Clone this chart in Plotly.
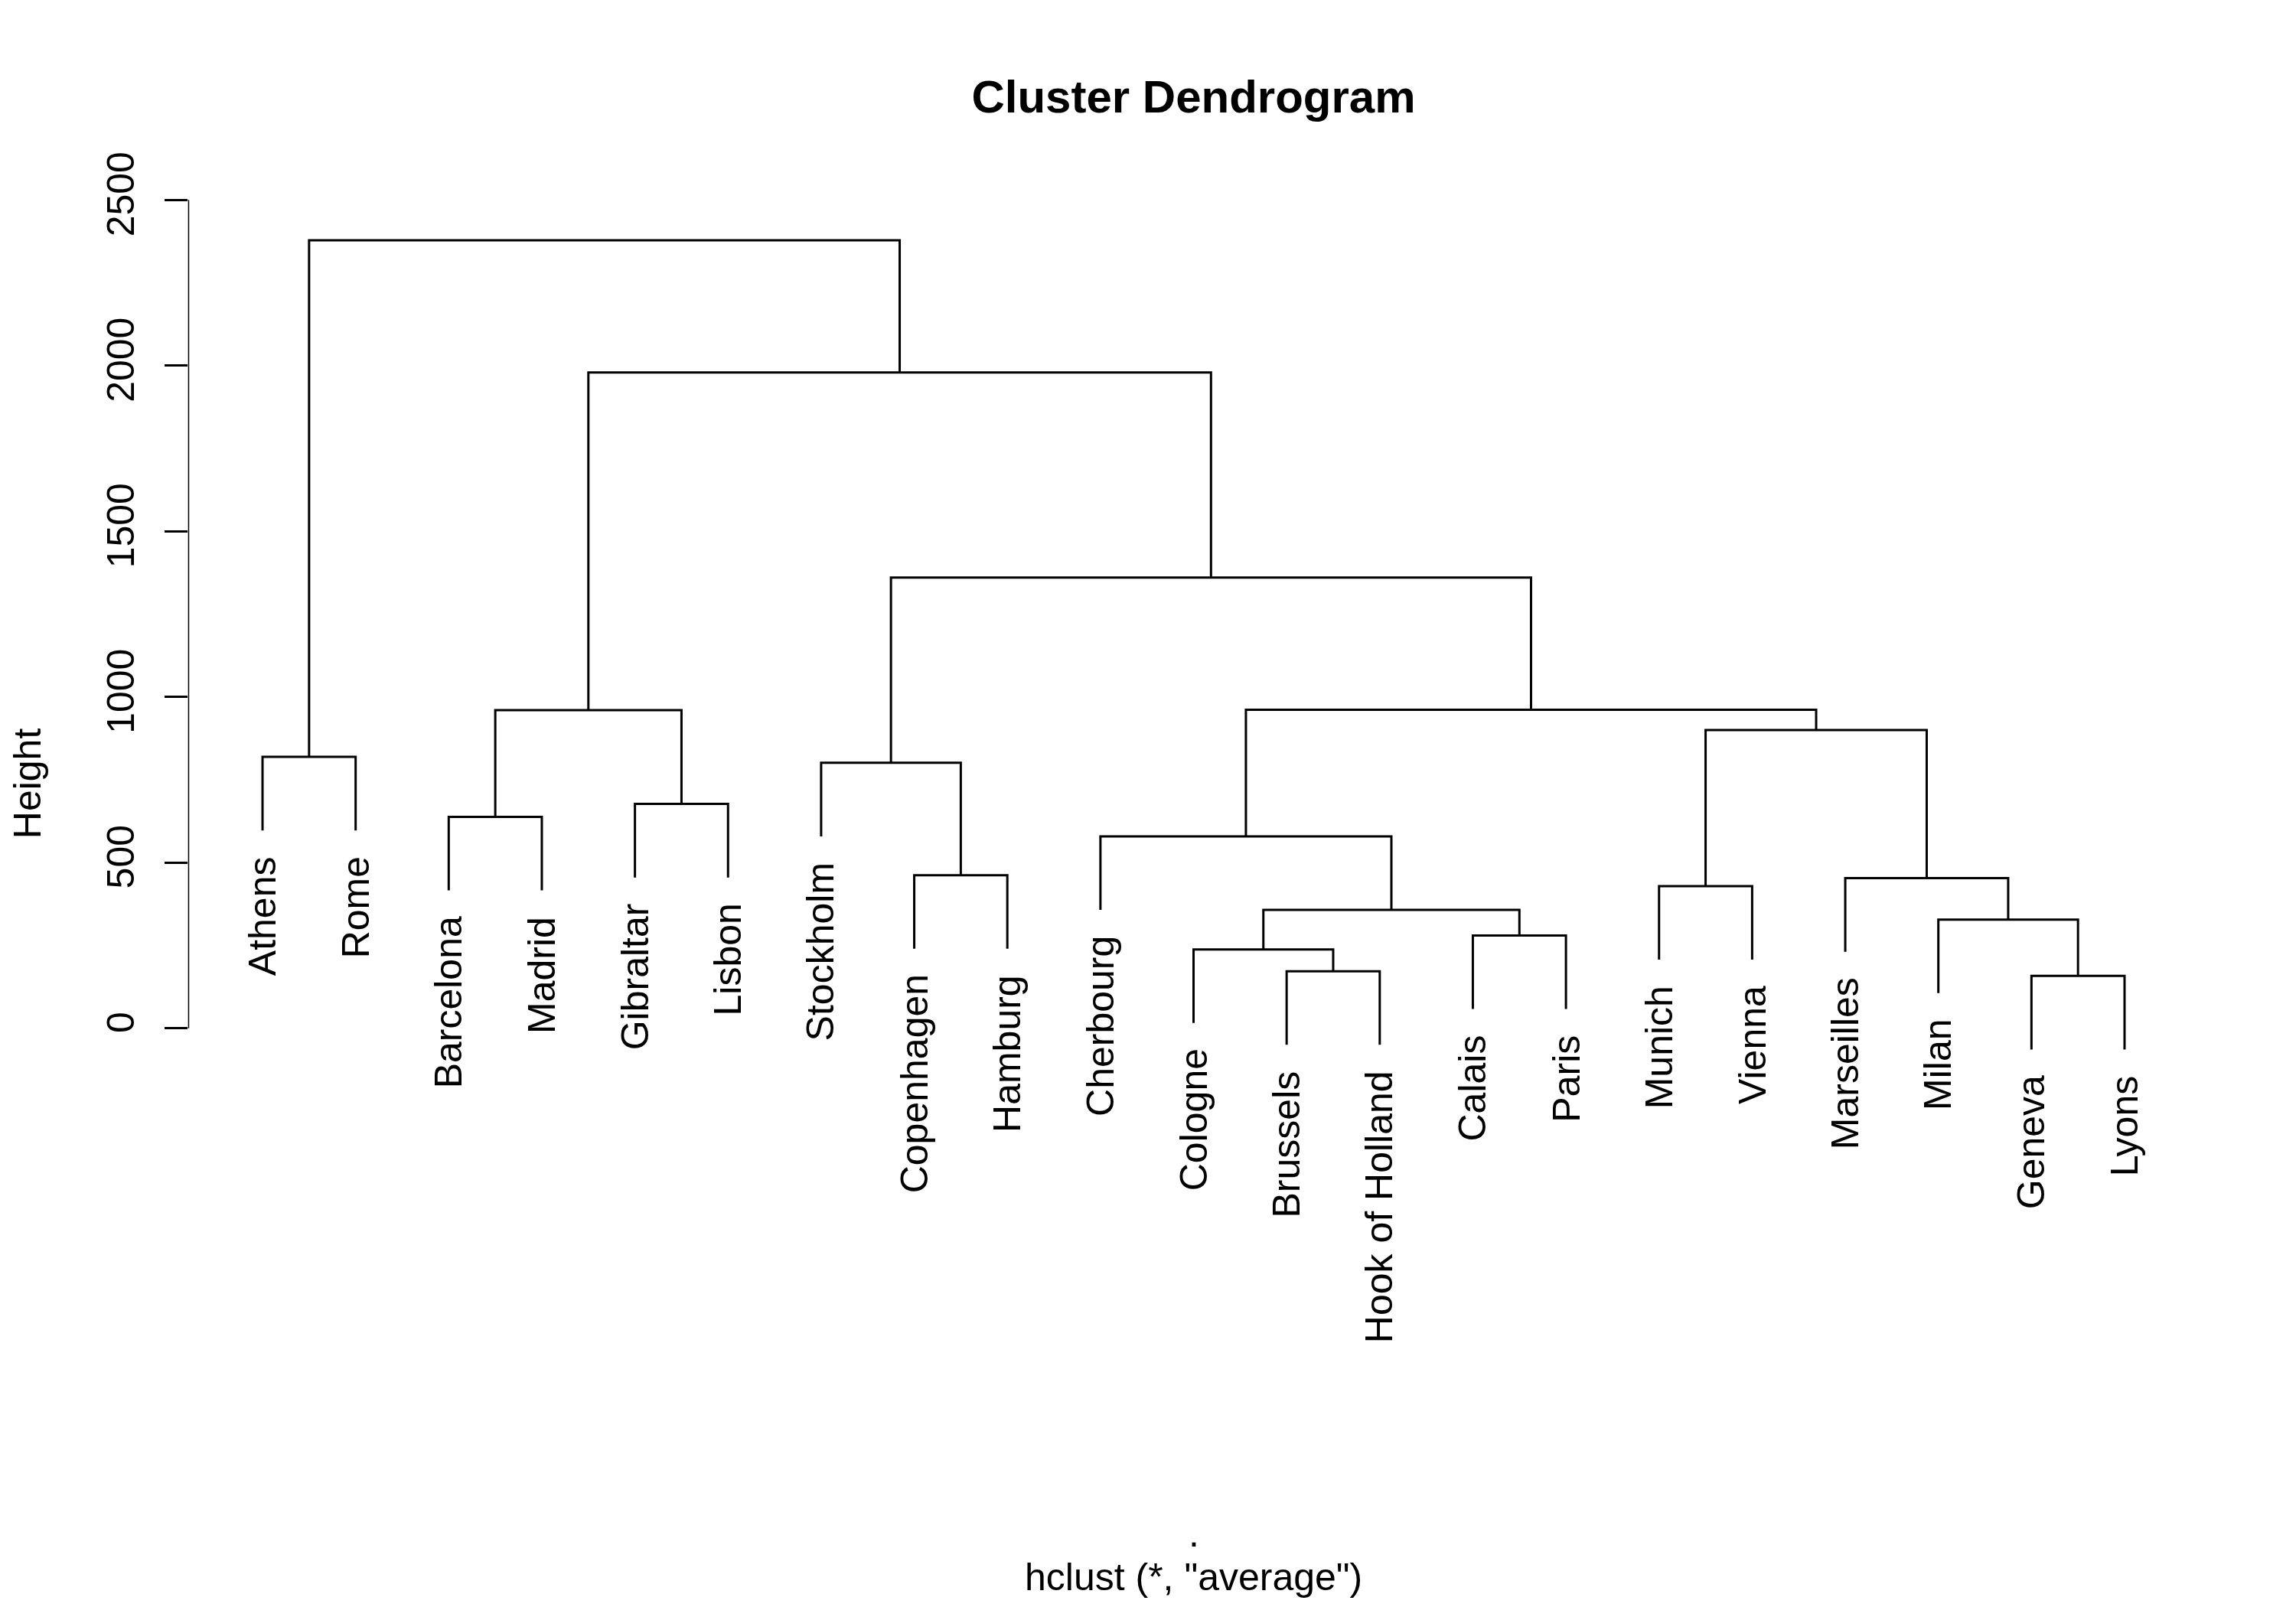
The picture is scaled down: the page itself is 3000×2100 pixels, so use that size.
import plotly.graph_objects as go

# ---- data ----
leaf_labels = ["Athens", "Rome", "Barcelona", "Madrid", "Gibraltar", "Lisbon",
               "Stockholm", "Copenhagen", "Hamburg", "Cherbourg", "Cologne",
               "Brussels", "Hook of Holland", "Calais", "Paris", "Munich",
               "Vienna", "Marseilles", "Milan", "Geneva", "Lyons"]

# merge steps: strings are leaves, ints are earlier merge steps (1-based)
merge_left = ["Geneva", "Brussels", "Cologne", "Calais", "Milan", 3, "Munich",
              "Marseilles", "Copenhagen", "Cherbourg", "Barcelona", "Gibraltar",
              "Stockholm", "Athens", 7, 11, 10, 13, 16, 14]
merge_right = ["Lyons", "Hook of Holland", 2, "Paris", 1, 4, "Vienna",
               5, "Hamburg", 6, "Madrid", "Lisbon",
               9, "Rome", 8, 12, 15, 17, 18, 19]
merge_height = [158, 172, 238, 280, 328, 357, 429, 453, 462, 579, 638, 677,
                801, 819, 900, 960, 961, 1360, 1979, 2378]

y_ticks = [0, 500, 1000, 1500, 2000, 2500]
title_text = "Cluster Dendrogram"
xlab_text = "."
sub_text = 'hclust (*, "average")'
ylab_text = "Height"

hang = 0.1
FONT = "Liberation Sans, Arial, sans-serif"

# ---- build the dendrogram segments ----
leaf_pos = {name: i + 1 for i, name in enumerate(leaf_labels)}
hang_amt = hang * (max(merge_height) - min(merge_height))
node_x, node_y = {}, {}
xs, ys = [], []
leaf_bottom = {}

def child_xy(c, h):
    if isinstance(c, str):
        bottom = h - hang_amt
        leaf_bottom[c] = bottom
        return leaf_pos[c], bottom
    return node_x[c], node_y[c]

for k, (a, b, h) in enumerate(zip(merge_left, merge_right, merge_height), start=1):
    xa, ya = child_xy(a, h)
    xb, yb = child_xy(b, h)
    xs += [xa, xa, xb, xb, None]
    ys += [ya, h, h, yb, None]
    node_x[k] = (xa + xb) / 2
    node_y[k] = h

fig = go.Figure()
fig.add_trace(go.Scatter(x=xs, y=ys, mode="lines",
                         line=dict(color="black", width=3),
                         hoverinfo="skip", showlegend=False))
# y axis line spanning only the tick range, as base R draws it
fig.add_trace(go.Scatter(x=[0.2, 0.2], y=[y_ticks[0], y_ticks[-1]], mode="lines",
                         line=dict(color="black", width=3), cliponaxis=False,
                         hoverinfo="skip", showlegend=False))

annotations = []
for name in leaf_labels:
    annotations.append(dict(x=leaf_pos[name], y=leaf_bottom[name], xref="x", yref="y",
                            text=name, textangle=-90, showarrow=False,
                            xanchor="center", yanchor="top", yshift=-32,
                            font=dict(family=FONT, size=50, color="black")))
annotations.append(dict(x=1559.5 / 3000, y=1 - 2003 / 2100, xref="paper", yref="paper",
                        text=xlab_text, showarrow=False, xanchor="center", yanchor="middle",
                        font=dict(family=FONT, size=50, color="black")))
annotations.append(dict(x=1559.5 / 3000, y=1 - 2061 / 2100, xref="paper", yref="paper",
                        text=sub_text, showarrow=False, xanchor="center", yanchor="middle",
                        font=dict(family=FONT, size=50, color="black")))
annotations.append(dict(x=36 / 3000, y=1 - 1017 / 2100, xref="paper", yref="paper",
                        text=ylab_text, textangle=-90, showarrow=False,
                        xanchor="center", yanchor="middle",
                        font=dict(family=FONT, size=50, color="black")))

# pixel geometry of the plotting region
x_left_px, x_right_px = 245.7, 2873.3
y_top_px, y_bot_px = 200.0, 1840.0
zero_px, px_per_unit = 1338.6, 0.43588

fig.update_layout(
    width=3000, height=2100,
    margin=dict(l=0, r=0, t=0, b=0),
    paper_bgcolor="white", plot_bgcolor="white",
    title=dict(text="<b>" + title_text + "</b>", x=1559.5 / 3000, xanchor="center",
               y=1 - 126 / 2100, yanchor="middle", yref="container",
               font=dict(family=FONT, size=60, color="black")),
    xaxis=dict(domain=[x_left_px / 3000, x_right_px / 3000], range=[0.2, 21.8],
               visible=False, fixedrange=True),
    yaxis=dict(domain=[1 - y_bot_px / 2100, 1 - y_top_px / 2100],
               range=[(zero_px - y_bot_px) / px_per_unit, (zero_px - y_top_px) / px_per_unit],
               tickvals=y_ticks, ticktext=[str(v) for v in y_ticks],
               ticks="outside", ticklen=30, tickwidth=3, tickcolor="black",
               tickangle=-90, ticklabelstandoff=20,
               tickfont=dict(family=FONT, size=50, color="black"),
               showgrid=False, zeroline=False, showline=False, fixedrange=True),
    annotations=annotations,
)

fig.write_html("out.html")
